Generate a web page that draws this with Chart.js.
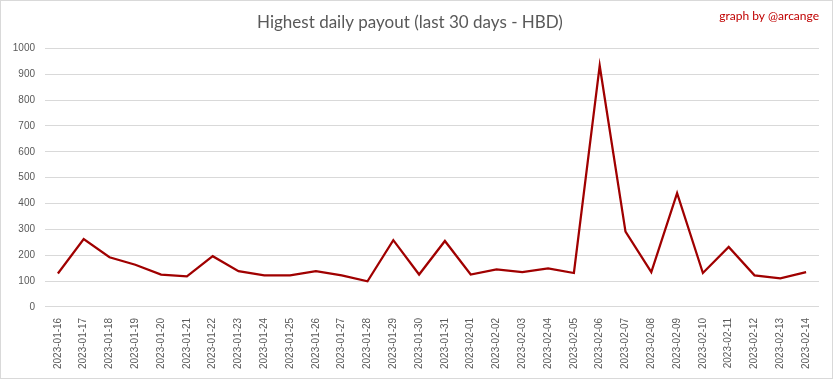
<!DOCTYPE html>
<html>
<head>
<meta charset="utf-8">
<script src="https://cdn.jsdelivr.net/npm/chart.js@4"></script>
<style>
    html, body { margin: 0; padding: 0; background: #fff; }
    #wrap { width: 833px; height: 379px; box-sizing: border-box; border: 1px solid #d9d9d9; }
</style>
</head>
<body>
<div id="wrap"><canvas id="payoutChart" width="831" height="377"></canvas></div>
<script>
const days = [
    '2023-01-16', '2023-01-17', '2023-01-18', '2023-01-19', '2023-01-20', '2023-01-21',
    '2023-01-22', '2023-01-23', '2023-01-24', '2023-01-25', '2023-01-26', '2023-01-27',
    '2023-01-28', '2023-01-29', '2023-01-30', '2023-01-31', '2023-02-01', '2023-02-02',
    '2023-02-03', '2023-02-04', '2023-02-05', '2023-02-06', '2023-02-07', '2023-02-08',
    '2023-02-09', '2023-02-10', '2023-02-11', '2023-02-12', '2023-02-13', '2023-02-14'
];
const payouts = [
    129, 262, 192, 163, 125, 118, 196, 138, 122, 122, 138, 122,
    99, 258, 125, 255, 125, 145, 134, 149, 131, 933, 291, 134,
    440, 131, 232, 122, 110, 134
];
const yTicks = [0, 100, 200, 300, 400, 500, 600, 700, 800, 900, 1000];

const chartTitle = 'Highest daily payout (last 30 days - HBD)';
const credit = 'graph by @arcange';

const creditPlugin = {
    id: 'credit',
    afterDraw(chart) {
        const c = chart.ctx;
        c.save();
        c.font = '12px "Lato"';
        c.fillStyle = '#c00000';
        c.textAlign = 'right';
        c.textBaseline = 'middle';
        c.fillText(credit, 818, 15);
        c.restore();
    }
};

const ctx = document.getElementById('payoutChart').getContext('2d');

new Chart(ctx, {
    type: 'line',
    data: {
        labels: days,
        datasets: [{
            label: 'Payout',
            data: payouts,
            borderColor: '#a00000',
            borderWidth: 2.25,
            pointRadius: 0,
            tension: 0,
            fill: false
        }]
    },
    options: {
        responsive: false,
        animation: false,
        layout: {
            padding: { left: 0, right: 13, top: 0, bottom: 6 }
        },
        plugins: {
            legend: { display: false },
            tooltip: { enabled: false },
            title: {
                display: true,
                text: chartTitle,
                color: '#595959',
                font: { family: 'Lato', size: 17, weight: 'normal' },
                padding: { top: 11, bottom: 16 }
            }
        },
        scales: {
            x: {
                offset: true,
                grid: { display: false },
                border: { display: false },
                ticks: {
                    color: '#595959',
                    font: { family: 'Liberation Sans', size: 10 },
                    minRotation: 90,
                    maxRotation: 90,
                    autoSkip: false,
                    padding: 3
                }
            },
            y: {
                min: 0,
                max: 1000,
                afterFit(scale) { scale.width = 44; },
                afterBuildTicks(scale) { scale.ticks = yTicks.map(v => ({ value: v })); },
                grid: { color: '#d9d9d9', drawTicks: false },
                border: { display: false },
                ticks: {
                    color: '#595959',
                    font: { family: 'Liberation Sans', size: 10 },
                    padding: 10,
                    callback: (value) => String(value)
                }
            }
        }
    },
    plugins: [creditPlugin]
});
</script>
</body>
</html>
